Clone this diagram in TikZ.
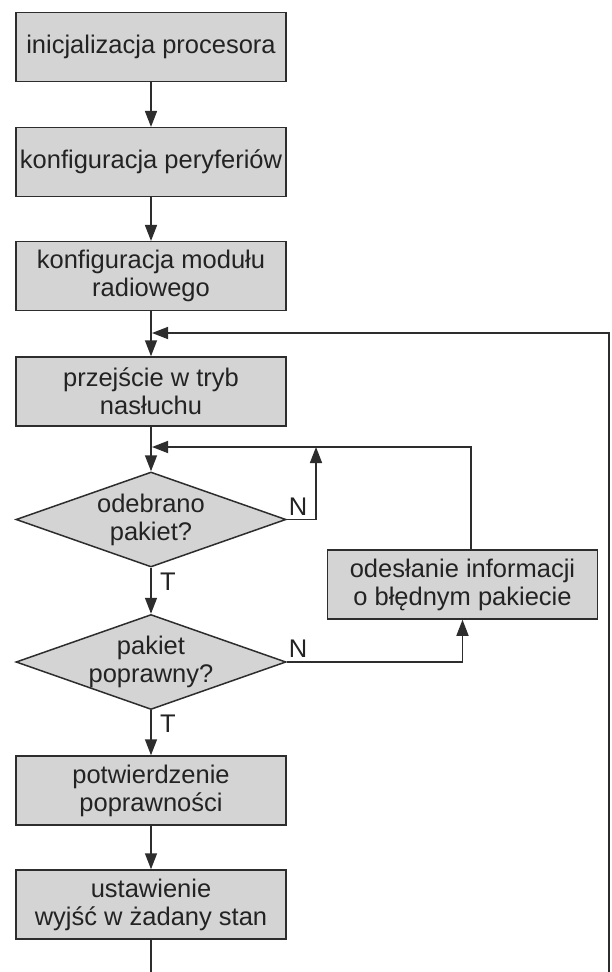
\documentclass[tikz,border=0pt]{standalone}
\usepackage{fontspec}
\setmainfont{Liberation Sans}
\usetikzlibrary{shapes.geometric,arrows.meta}
\definecolor{boxfill}{RGB}{212,212,212}
\definecolor{ink}{RGB}{45,45,45}
\definecolor{txt}{RGB}{35,35,35}
\tikzset{
  stepbox/.style={rectangle,draw=ink,fill=boxfill,line width=1.5pt,minimum width=270pt,minimum height=69pt,inner sep=0pt,align=center,text=txt,font=\fontsize{25.5}{28}\selectfont},
  decbox/.style={diamond,draw=ink,fill=boxfill,line width=1.5pt,minimum width=270pt,minimum height=95pt,inner sep=0pt},
  dectext/.style={inner sep=0pt,align=center,text=txt,font=\fontsize{25.5}{28}\selectfont},
  lbl/.style={inner sep=0pt,text=txt,font=\fontsize{25.5}{28}\selectfont},
  conn/.style={draw=ink,line width=1.5pt},
  arr/.style={conn,-{Triangle[length=16pt,width=12pt]}}
}
\begin{document}
\begin{tikzpicture}[x=1pt,y=-1pt]
\useasboundingbox[fill=white] (0,0) rectangle (611,972);
\node[stepbox] (b1) at (151,47.2) {inicjalizacja procesora};
\node[stepbox] (b2) at (151,162.2) {konfiguracja peryferiów};
\node[stepbox] (b3) at (151,276.2) {konfiguracja modułu\\radiowego};
\node[stepbox] (b4) at (151,391.5) {przejście w tryb\\nasłuchu};
\node[decbox] (d1) at (151,519.5) {};
\node[dectext] (d1t) at (d1) {odebrano\\pakiet?};
\node[decbox] (d2) at (151,662) {};
\node[dectext] (d2t) at (d2) {pakiet\\poprawny?};
\node[stepbox] (b5) at (462.5,584.5) {odesłanie informacji\\o błędnym pakiecie};
\node[stepbox] (b6) at (151,790.5) {potwierdzenie\\poprawności};
\node[stepbox] (b7) at (151,904.5) {ustawienie\\wyjść w żadany stan};
\node[lbl] (n1) at (298,507) {N};
\node[lbl] (n2) at (298,649) {N};
\node[lbl] (t1) at (168,582) {T};
\node[lbl] (t2) at (168,724) {T};
\coordinate (j1) at (152,333);
\coordinate (j2) at (152,447);
\coordinate (rb) at (609,975);
\coordinate (u5) at (471,550);
\coordinate (nup) at (316,447);
\coordinate (bb) at (151,975);
\draw[arr] (b1) -- (b2);
\draw[arr] (b2) -- (b3);
\draw[arr] (b3) -- (b4);
\draw[arr] (b4) -- (d1);
\draw[arr] (d1) -- (d2);
\draw[arr] (d2) -- (b6);
\draw[arr] (b6) -- (b7);
\draw[conn] (b7) -- (bb);
\draw[arr] (rb) |- (j1);
\draw[arr] (u5) |- (j2);
\draw[arr] (d1.east) -| (nup);
\draw[arr] (d2.east) -| (b5.south);
\end{tikzpicture}
\end{document}
